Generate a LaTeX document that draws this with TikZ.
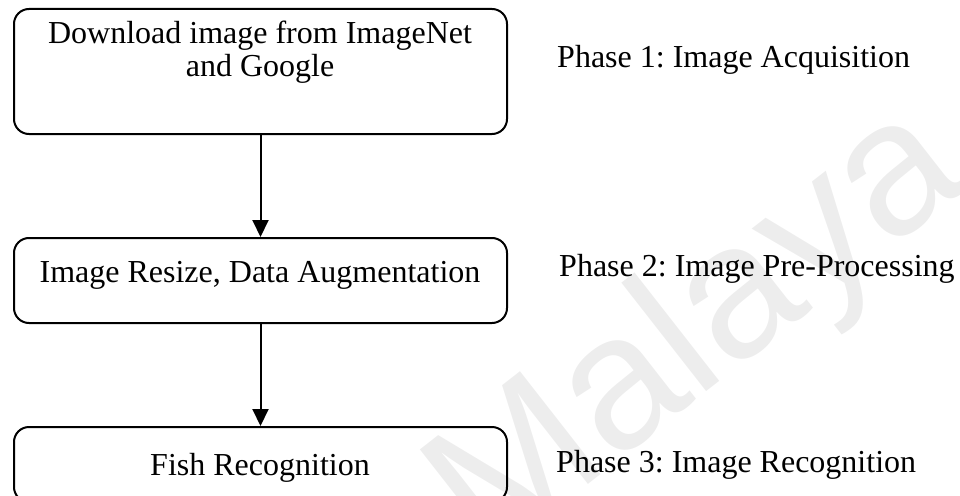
\documentclass[tikz,border=0pt]{standalone}
\usepackage{fontspec}
\setmainfont{Liberation Serif}
\newfontfamily\wmfont{Liberation Sans}
\usetikzlibrary{arrows.meta}
\frenchspacing
\begin{document}
\begin{tikzpicture}[x=1pt,y=-1pt,
  stagebox/.style={draw=black,line width=2pt,rounded corners=15pt,inner sep=0pt,anchor=north west},
  boxtext/.style={font=\fontsize{32}{32}\selectfont,anchor=base,inner sep=0pt},
  phasetext/.style={font=\fontsize{32}{32}\selectfont,anchor=base west,inner sep=0pt},
  flow/.style={line width=2pt,-{Triangle[length=17pt,width=16pt]}}]
\useasboundingbox (0,0) rectangle (960,495);
\begin{scope}
\clip (0,0) rectangle (960,495);
% faint watermark behind the chart
\node[text=black!7,font=\wmfont\fontsize{190}{190}\selectfont,rotate=38,inner sep=0pt]
  (wm) at (700,335) {Malaya};
% stage boxes
\node[stagebox,minimum width=493pt,minimum height=125pt] (s1) at (13,8) {};
\node[stagebox,minimum width=493pt,minimum height=85pt] (s2) at (13,237) {};
\node[stagebox,minimum width=493pt,minimum height=75pt] (s3) at (13,426) {};
\end{scope}
% box captions
\node[boxtext] (t1a) at (260,44) {Download image from ImageNet};
\node[boxtext] (t1b) at (260,76) {and Google};
\node[boxtext] (t2) at (260,282) {Image Resize, Data Augmentation};
\node[boxtext] (t3) at (260,475) {Fish Recognition};
% phase labels
\node[phasetext] (p1) at (557,67) {Phase 1: Image Acquisition};
\node[phasetext] (p2) at (559,276) {Phase 2: Image Pre-Processing};
\node[phasetext] (p3) at (556,472) {Phase 3: Image Recognition};
% connectors
\draw[flow] (s1.south) -- (s2.north);
\draw[flow] (s2.south) -- (s3.north);
\end{tikzpicture}
\end{document}
